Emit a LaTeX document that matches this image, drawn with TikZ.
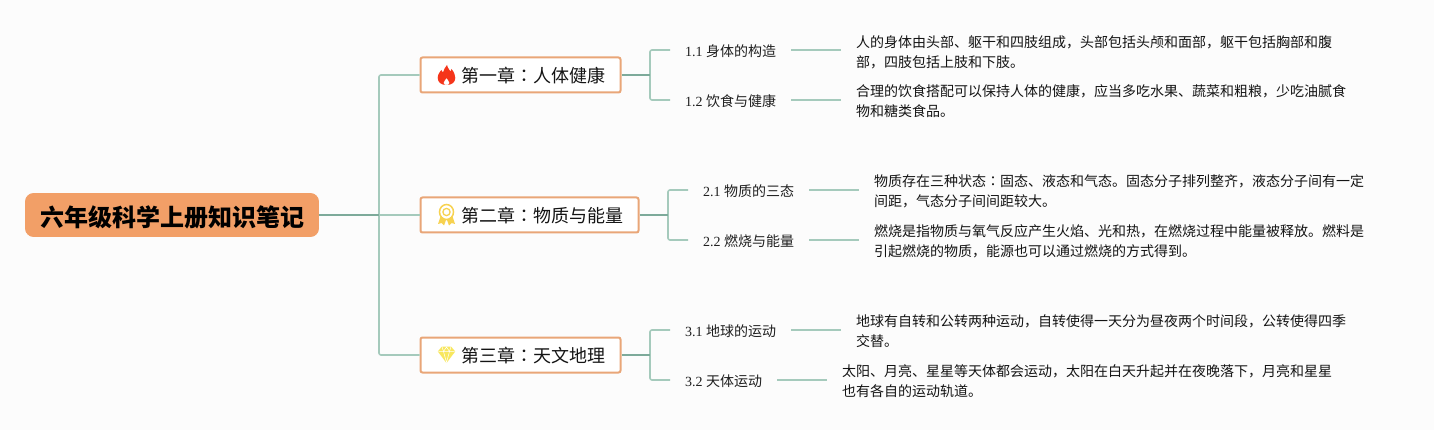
\documentclass[tikz,border=0pt]{standalone}
\usepackage{fontspec}
\setmainfont{Liberation Serif}
\newfontfamily\cjk{Noto Sans CJK SC}
\newfontfamily\cjkjp{Noto Sans CJK JP}
\newcommand{\cln}{{\cjkjp ：}}
\definecolor{pagebg}{HTML}{FCFCFC}
\definecolor{rootfill}{HTML}{F29F67}
\definecolor{chapborder}{HTML}{E9A678}
\definecolor{thinline}{HTML}{A5CABC}
\definecolor{thickline}{HTML}{7DAA9A}
\definecolor{flame}{HTML}{F5351A}
\definecolor{gold}{HTML}{F7D250}
\definecolor{gem}{HTML}{F8E75E}
\tikzset{
  rootbox/.style={draw=rootfill,fill=rootfill,rounded corners=8pt,line width=0.8pt,inner sep=0pt,minimum width=293pt,minimum height=43pt,text height=24pt,text depth=1.8pt,font=\cjk\bfseries\fontsize{24}{30}\selectfont,text=black},
  chapbox/.style={draw=chapborder,fill=white,rounded corners=2pt,line width=2pt,inner xsep=0pt,inner ysep=0pt,minimum height=35pt,text height=17pt,text depth=1.4pt,anchor=west,font=\cjk\fontsize{18}{22}\selectfont,text=black!92},
  sublabel/.style={anchor=west,inner xsep=15pt,inner ysep=0pt,font=\fontsize{14}{18}\selectfont,text=black!88},
  detail/.style={anchor=west,inner xsep=15pt,inner ysep=0pt,align=left,font=\cjk\fontsize{14}{20}\selectfont,text=black!92},
  thinlink/.style={draw=thinline,line width=1.6pt,rounded corners=2pt},
  thicklink/.style={draw=thickline,line width=2pt},
  twig/.style={draw=thinline,line width=1.6pt}
}
\begin{document}
\begin{tikzpicture}[x=1pt,y=-1pt]
\useasboundingbox (0,0) rectangle (1434,430);
\fill[pagebg] (0,0) rectangle (1434,430);
\coordinate (j0) at (379,215);
\coordinate (j1) at (650,75);
\coordinate (j2) at (668,215);
\coordinate (j3) at (650,355);
% nodes
\node[rootbox] (root) at (172,215) {六年级科学上册知识笔记};
\node[chapbox] (c1) at (419.5,75) {\hspace*{41pt}第一章\cln 人体健康\hspace*{15pt}};
\node[chapbox] (c2) at (419.5,215) {\hspace*{41pt}第二章\cln 物质与能量\hspace*{15pt}};
\node[chapbox] (c3) at (419.5,355) {\hspace*{41pt}第三章\cln 天文地理\hspace*{15pt}};
\node[sublabel] (l11) at (670,51) {1.1 {\cjk 身体的构造}};
\node[sublabel] (l12) at (670,101) {1.2 {\cjk 饮食与健康}};
\node[sublabel] (l21) at (688,191) {2.1 {\cjk 物质的三态}};
\node[sublabel] (l22) at (688,241) {2.2 {\cjk 燃烧与能量}};
\node[sublabel] (l31) at (670,331) {3.1 {\cjk 地球的运动}};
\node[sublabel] (l32) at (670,381) {3.2 {\cjk 天体运动}};
\node[detail] (d11) at (841,52) {人的身体由头部、躯干和四肢组成，头部包括头颅和面部，躯干包括胸部和腹\\部，四肢包括上肢和下肢。};
\node[detail] (d12) at (841,101) {合理的饮食搭配可以保持人体的健康，应当多吃水果、蔬菜和粗粮，少吃油腻食\\物和糖类食品。};
\node[detail] (d21) at (859,191) {物质存在三种状态\cln 固态、液态和气态。固态分子排列整齐，液态分子间有一定\\间距，气态分子间间距较大。};
\node[detail] (d22) at (859,241) {燃烧是指物质与氧气反应产生火焰、光和热，在燃烧过程中能量被释放。燃料是\\引起燃烧的物质，能源也可以通过燃烧的方式得到。};
\node[detail] (d31) at (841,331) {地球有自转和公转两种运动，自转使得一天分为昼夜两个时间段，公转使得四季\\交替。};
\node[detail] (d32) at (827,381) {太阳、月亮、星星等天体都会运动，太阳在白天升起并在夜晚落下，月亮和星星\\也有各自的运动轨道。};
% connectors
\draw[thinlink] (c1.west) -| (j0) |- (c3.west);
\draw[twig] (j0) -- (c2.west);
\draw[thicklink] (root.east) -- (j0);
\draw[thinlink] (l11.west |- 0,50) -| (j1) |- (l12.west |- 0,100);
\draw[thicklink] (c1.east) -- (j1);
\draw[thinlink] (l21.west |- 0,190) -| (j2) |- (l22.west |- 0,240);
\draw[thicklink] (c2.east) -- (j2);
\draw[thinlink] (l31.west |- 0,330) -| (j3) |- (l32.west |- 0,380);
\draw[thicklink] (c3.east) -- (j3);
\draw[twig] (l11.east |- 0,50) -- (d11.west |- 0,50);
\draw[twig] (l12.east |- 0,100) -- (d12.west |- 0,100);
\draw[twig] (l21.east |- 0,190) -- (d21.west |- 0,190);
\draw[twig] (l22.east |- 0,240) -- (d22.west |- 0,240);
\draw[twig] (l31.east |- 0,330) -- (d31.west |- 0,330);
\draw[twig] (l32.east |- 0,380) -- (d32.west |- 0,380);
% flame icon
\begin{scope}[shift={(446.5,75)}]
\fill[flame,even odd rule] (0.5,-10) .. controls (1.5,-6) and (3.5,-5) .. (4,-3.5) .. controls (5,-4.5) and (5,-5.5) .. (5,-6) .. controls (7.5,-3) and (8.8,0) .. (8.8,3) .. controls (8.8,7.5) and (5,10) .. (0,10) .. controls (-5,10) and (-8.8,7.5) .. (-8.8,3) .. controls (-8.8,-1) and (-6.5,-3) .. (-5.2,-5) .. controls (-4.8,-3.5) and (-4.3,-3) .. (-3.5,-2.5) .. controls (-3,-5) and (-1.5,-7.5) .. (0.5,-10) -- cycle
 (0,3) .. controls (-1,5) and (-3,6) .. (-3,8) .. controls (-3,9) and (-2.5,9.6) .. (-1.5,10) -- (1.5,10) .. controls (2.5,9.6) and (3,9) .. (3,8) .. controls (3,6) and (1,5) .. (0,3) -- cycle;
\end{scope}
% medal icon
\begin{scope}[shift={(446.5,213)}]
\fill[gold] (-6,3.5) -- (-8.5,11) -- (-5,10) -- (-2.5,12.5) -- (-0.5,7) -- cycle;
\fill[gold] (6,3.5) -- (8.5,11) -- (5,10) -- (2.5,12.5) -- (0.5,7) -- cycle;
\draw[gold,line width=1.5pt,fill=white] (0,-1) circle[x radius=7,y radius=7.5];
\draw[gold,line width=1.3pt,fill=white] (0,-1) circle[radius=3.6];
\end{scope}
% diamond icon
\begin{scope}[shift={(446.5,354.5)}]
\fill[gem] (-4.5,-8) -- (4.5,-8) -- (8.7,-3) -- (0,8.5) -- (-8.7,-3) -- cycle;
\draw[white,line width=0.5pt,line join=round] (-8.2,-3) -- (8.2,-3) (-4.5,-8) -- (-3,-3) -- (0,8) -- (3,-3) -- (4.5,-8) (-3,-3) -- (0,-7.5) -- (3,-3);
\end{scope}
\end{tikzpicture}
\end{document}
